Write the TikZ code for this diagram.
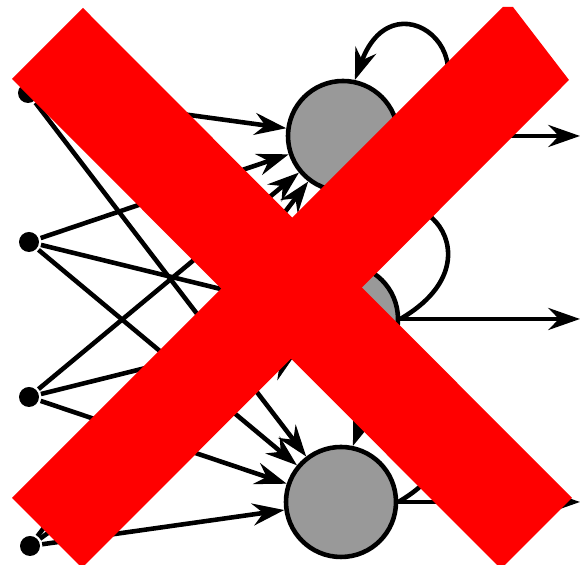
\documentclass[tikz,border=0pt]{standalone}
\usetikzlibrary{arrows.meta}
\begin{document}
\begin{tikzpicture}[
    >={Stealth[length=18pt,width=12.5pt,inset=6pt]},
    line width=2.6pt,
    inp/.style={circle,fill=black,inner sep=0pt,minimum size=0.4cm},
    neuron/.style={circle,draw,fill=black!40,inner sep=0pt,minimum size=2.2cm}]
    \useasboundingbox (0,0) rectangle (11.62,11.3);
    % inputs
    \node[inp] (i1) at (0.56,9.44) {};
    \node[inp] (i2) at (0.58,6.46) {};
    \node[inp] (i3) at (0.58,3.36) {};
    \node[inp] (i4) at (0.60,0.38) {};
    % neurons
    \node[neuron] (n1) at (6.86,8.58) {};
    \node[neuron] (n2) at (6.86,4.92) {};
    \node[neuron] (n3) at (6.82,1.26) {};
    % outputs
    \coordinate (o1) at (11.6,8.58);
    \coordinate (o2) at (11.6,4.92);
    \coordinate (o3) at (11.6,1.26);
    \foreach \i in {1,...,4}
        \foreach \j in {1,2,3}
            \draw[->] (i\i) -- (n\j);
    \foreach \j in {1,2,3} {
        \draw[->] (n\j) -- (o\j);
        \draw[->] (n\j.east) .. controls +(30:2.6) and +(70:2.4) .. (n\j.78);
    }
    % cross
    \begin{scope}
        \clip (0,0) rectangle (11.62,11.3);
        \fill[red] (1.66,11.14) -- (11.44,1.34) -- (10.02,-0.08) -- (0.24,9.72) -- cycle;
        \fill[red] (0.24,1.34) -- (10.06,11.16) -- (10.26,11.16) -- (11.38,9.7) -- (1.64,-0.06) -- cycle;
    \end{scope}
\end{tikzpicture}
\end{document}
